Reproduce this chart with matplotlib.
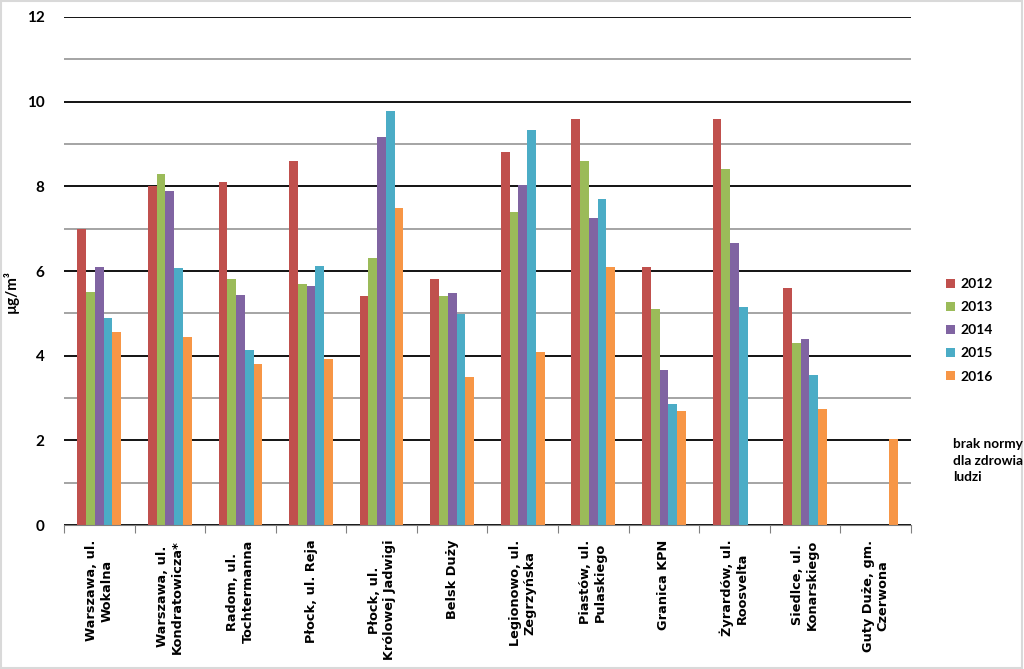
import numpy as np
import matplotlib.pyplot as plt

stations = ['Warszawa, ul.\nWokalna', 'Warszawa, ul.\nKondratowicza*', 'Radom, ul.\nTochtermanna',
            'Płock, ul. Reja', 'Płock, ul.\nKrólowej Jadwigi', 'Belsk Duży', 'Legionowo, ul.\nZegrzyńska',
            'Piastów, ul.\nPulaskiego', 'Granica KPN', 'Żyrardów, ul.\nRoosvelta', 'Siedlce, ul.\nKonarskiego',
            'Guty Duże, gm.\nCzerwona']
years = ['2012', '2013', '2014', '2015', '2016']
v2012 = [7.0, 8.0, 8.1, 8.6, 5.4, 5.8, 8.8, 9.6, 6.1, 9.6, 5.6, np.nan]
v2013 = [5.5, 8.3, 5.8, 5.7, 6.3, 5.4, 7.4, 8.6, 5.1, 8.4, 4.3, np.nan]
v2014 = [6.1, 7.9, 5.43, 5.65, 9.17, 5.48, 8.03, 7.26, 3.66, 6.65, 4.4, np.nan]
v2015 = [4.88, 6.07, 4.13, 6.13, 9.79, 4.98, 9.32, 7.71, 2.87, 5.15, 3.55, np.nan]
v2016 = [4.56, 4.45, 3.8, 3.91, 7.5, 3.5, 4.08, 6.1, 2.69, np.nan, 2.73, 2.03]
colors = ['#C0504D', '#9BBB59', '#8064A2', '#4BACC6', '#F79646']

fig = plt.figure(figsize=(10.24, 6.69), dpi=100)
ax = fig.add_axes([0.0625, 0.2152, 0.8271, 0.7594])

x = np.arange(len(stations))
w = 0.124
series = [v2012, v2013, v2014, v2015, v2016]
for i, vals in enumerate(series):
    ax.bar(x + (i - 2) * w, vals, width=w, color=colors[i], label=years[i], zorder=3)

# gridlines: even values darker
for yv in range(0, 13):
    if yv % 2 == 0:
        ax.axhline(yv, color='black', lw=1.3, zorder=1)
    else:
        ax.axhline(yv, color='#8c8c8c', lw=1.1, zorder=1)

ax.set_xlim(-0.5, len(stations) - 0.5)
ax.set_ylim(0, 12)
ax.set_yticks(range(0, 13, 2))
ax.set_yticklabels([str(t) for t in range(0, 13, 2)], family='Lato', fontweight='bold', fontsize=11)
ax.tick_params(axis='y', length=0, pad=14)
for s in ['top', 'right', 'left']:
    ax.spines[s].set_visible(False)
ax.spines['bottom'].set_color('#808080')
ax.spines['bottom'].set_zorder(4)

ax.set_xticks(np.arange(-0.5, len(stations), 1.0))
ax.set_xticklabels([])
ax.tick_params(axis='x', length=6, color='#808080', direction='out')
for xi, lab in zip(x, stations):
    ax.text(xi, -0.35, lab, rotation=90, ha='center', va='top', fontsize=9.3,
            fontweight='bold', family='DejaVu Sans', linespacing=1.2, multialignment='center')

ax.set_ylabel('µg/m³', family=['Lato', 'DejaVu Sans'], fontweight='bold', fontsize=11)
ax.yaxis.set_label_coords(-0.053, 0.46)

leg = fig.legend(loc='upper left', bbox_to_anchor=(0.912, 0.603), frameon=False,
                 prop={'family': 'Lato', 'weight': 'bold', 'size': 10},
                 handlelength=0.65, handleheight=0.65, handletextpad=0.35, labelspacing=0.8)

fig.text(0.931, 0.345, 'brak normy\ndla zdrowia\nludzi', ha='left', va='top',
         family='Lato', fontweight='bold', fontsize=9.8, linespacing=1.45)

fig.patches.append(plt.Rectangle((0.001, 0.002), 0.997, 0.996, transform=fig.transFigure,
                                 fill=False, edgecolor='#d9d9d9', lw=1.5))

fig.savefig('out.png', dpi=100)
